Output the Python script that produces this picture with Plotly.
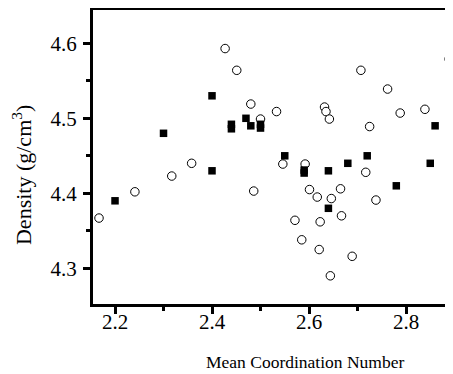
import plotly.graph_objects as go

# Open circles
circle_x = [2.167, 2.241, 2.317, 2.358, 2.427, 2.451, 2.480, 2.486, 2.500, 2.533,
            2.546, 2.571, 2.585, 2.592, 2.601, 2.617, 2.621, 2.623, 2.632, 2.635,
            2.642, 2.644, 2.646, 2.665, 2.667, 2.689, 2.707, 2.717, 2.725, 2.738,
            2.762, 2.788, 2.839, 2.889]
circle_y = [4.367, 4.402, 4.423, 4.440, 4.593, 4.564, 4.519, 4.403, 4.499, 4.509,
            4.439, 4.364, 4.338, 4.439, 4.405, 4.395, 4.325, 4.362, 4.515, 4.509,
            4.499, 4.290, 4.393, 4.406, 4.370, 4.316, 4.564, 4.428, 4.489, 4.391,
            4.539, 4.507, 4.512, 4.579]

# Filled squares
square_x = [2.20, 2.30, 2.40, 2.40, 2.44, 2.44, 2.47, 2.48, 2.50, 2.50,
            2.55, 2.59, 2.59, 2.64, 2.64, 2.68, 2.72, 2.78, 2.85, 2.86]
square_y = [4.390, 4.480, 4.530, 4.430, 4.492, 4.486, 4.500, 4.490, 4.492, 4.487,
            4.450, 4.431, 4.427, 4.430, 4.380, 4.440, 4.450, 4.410, 4.440, 4.490]

x_title = "Mean Coordination Number"
y_title = "Density (g/cm<sup>3</sup>)"

x_range = [2.1546, 2.8969]
y_range = [4.2524, 4.6444]

fig = go.Figure()
fig.add_trace(go.Scatter(
    x=circle_x, y=circle_y, mode="markers",
    marker=dict(symbol="circle", size=8.5, color="white",
                line=dict(color="black", width=1)),
    showlegend=False))
fig.add_trace(go.Scatter(
    x=square_x, y=square_y, mode="markers",
    marker=dict(symbol="square", size=7.5, color="black",
                line=dict(color="black", width=0)),
    showlegend=False))

font = "Liberation Serif"
fig.update_layout(
    width=445, height=366,
    margin=dict(l=85, r=0, t=2, b=70),
    paper_bgcolor="white", plot_bgcolor="white",
    font=dict(family=font, color="black", size=18),
    xaxis=dict(
        range=x_range, showgrid=False, zeroline=False, automargin=False,
        showline=True, linecolor="black", linewidth=3, mirror=True,
        ticks="outside", ticklen=7, tickwidth=2.5, tickcolor="black",
        tick0=2.0, dtick=0.2, tickformat=".1f",
        ticklabelstandoff=-10,
        tickfont=dict(family=font, size=21, color="black"),
        minor=dict(ticks="outside", ticklen=4, tickwidth=2.5, tickcolor="black",
                   tick0=2.0, dtick=0.1),
    ),
    yaxis=dict(
        range=y_range, showgrid=False, zeroline=False, automargin=False,
        showline=True, linecolor="black", linewidth=3, mirror=False,
        ticks="outside", ticklen=7, tickwidth=2.5, tickcolor="black",
        tick0=4.0, dtick=0.1, tickformat=".1f",
        ticklabelstandoff=2,
        tickfont=dict(family=font, size=21, color="black"),
        minor=dict(ticks="outside", ticklen=4, tickwidth=2.5, tickcolor="black",
                   tick0=4.0, dtick=0.05),
    ),
    annotations=[
        dict(text=x_title, xref="paper", yref="paper", x=0.589, y=-0.197,
             xanchor="center", yanchor="middle", showarrow=False,
             font=dict(family=font, size=17.5, color="black")),
        dict(text=y_title, xref="paper", yref="paper", x=-0.197, y=0.439,
             xanchor="center", yanchor="middle", showarrow=False, textangle=-90,
             font=dict(family=font, size=22, color="black")),
    ],
)

fig.write_html("out.html")
